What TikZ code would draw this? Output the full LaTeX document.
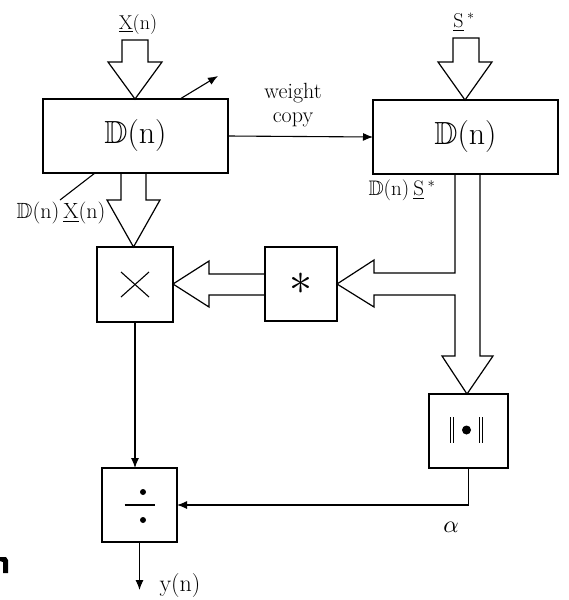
\documentclass[tikz,border=0pt]{standalone}
\usepackage{amssymb}
\DeclareFontFamily{U}{msb}{}
\DeclareFontShape{U}{msb}{m}{n}{<-> msbm10}{}
\DeclareFontShape{OML}{cmm}{m}{it}{<-> cmmi10}{}
\DeclareFontShape{OMS}{cmsy}{m}{n}{<-> cmsy10}{}
\usepackage{fontspec}
\usetikzlibrary{arrows.meta}
\newcommand{\spaced}{\addfontfeature{LetterSpace=6}}
\begin{document}
\begin{tikzpicture}[x=1pt,y=-1pt,line width=1.1pt,
  blk/.style={draw,inner sep=0pt,outer sep=0pt},
  big/.style={font=\fontsize{32}{34}\selectfont\spaced},
  lbl/.style={font=\fontsize{20}{22}\selectfont\spaced,inner sep=0pt},
  fat/.style={line width=1.2pt,line join=miter},
  thin/.style={line width=1.1pt,-{Latex[length=10pt,width=8pt]}}]
\useasboundingbox (0,0) rectangle (568,600);
% boxes
\node[blk,big,minimum width=185pt,minimum height=74pt] (DL) at (135.5,136) {$\mathbb{D}$(n)};
\node[blk,big,minimum width=185pt,minimum height=74pt] (DR) at (465.5,137) {$\mathbb{D}$(n)};
\node[blk,minimum width=76pt,minimum height=75pt] (mul) at (135,284.5) {};
\node[blk,minimum width=72pt,minimum height=74pt,font=\fontsize{46}{46}\selectfont] (conj) at (301,284) {$\ast$};
\node[blk,minimum width=79pt,minimum height=74pt] (norm) at (468.5,431) {};
\node[blk,minimum width=75pt,minimum height=74pt] (div) at (139.5,505) {};
% symbols inside boxes
\draw ([shift={(-14,-12.5)}]mul.center) -- ([shift={(14,12.5)}]mul.center);
\draw ([shift={(-14,12.5)}]mul.center) -- ([shift={(14,-12.5)}]mul.center);
\draw ([shift={(-15,0)}]div.center) -- ([shift={(15,0)}]div.center);
\fill ([shift={(3.5,-13)}]div.center) circle (3pt);
\fill ([shift={(3.5,15)}]div.center) circle (3pt);
\begin{scope}[line width=0.9pt]
\draw ([shift={(-18,-14)}]norm.center) -- ([shift={(-18,12)}]norm.center);
\draw ([shift={(-15,-14)}]norm.center) -- ([shift={(-15,12)}]norm.center);
\draw ([shift={(11,-14)}]norm.center) -- ([shift={(11,12)}]norm.center);
\draw ([shift={(14,-14)}]norm.center) -- ([shift={(14,12)}]norm.center);
\end{scope}
\fill ([shift={(-2,-1)}]norm.center) circle (4.5pt);
% fat arrows
\draw[fat] (122,40) -- (148,40) -- (148,62) -- (162,62) -- (135,99) -- (108,62) -- (122,62) -- cycle;
\draw[fat] (121,173) -- (121,200) -- (107,200) -- (133.5,247) -- (160,200) -- (146,200) -- (146,173);
\draw[fat] (453,38) -- (479,38) -- (479,62) -- (492,62) -- (465,100) -- (438,62) -- (453,62) -- cycle;
\draw[fat] (455,174) -- (455,273) -- (374,273) -- (374,260) -- (337,284) -- (374,307) -- (374,295)
  -- (455,295) -- (455,356) -- (442,356) -- (467,394) -- (493,356) -- (480,356) -- (480,174);
\draw[fat] (265,274) -- (209,274) -- (209,261) -- (173,284) -- (209,307) -- (209,295) -- (265,295);
% thin connectors
\draw[thin] (DL.east) -- (DR.west);
\draw[thin] (mul.south) -- (mul.south |- div.north);
\draw[thin] (norm.south) |- (div.east);
\coordinate (yout) at (139.5,590);
\draw[thin] (div.south) -- (yout);
\coordinate (pa) at (180,99);
\coordinate (pb) at (218,76);
\draw[thin] (pa) -- (pb);
\coordinate (pc) at (95,173);
\coordinate (pd) at (60,200);
\draw (pc) -- (pd);
% labels
\node[lbl,anchor=base] (lx) at (138,29) {\underline{X}(n)};
\node[lbl,anchor=base] (ls) at (464,27) {\underline{S}\,$^{*}$};
\node[lbl,anchor=base,font=\fontsize{22}{22}\selectfont\spaced] (ldx) at (61,218) {$\mathbb{D}$(n)\hspace{4pt}\underline{X}(n)};
\node[lbl,anchor=base,font=\fontsize{21}{22}\selectfont\spaced] (lds) at (402,195) {$\mathbb{D}$(n)\hspace{4pt}\underline{S}\,$^{*}$};
\node[inner sep=0pt,align=center,anchor=south,font=\fontsize{22}{24}\selectfont\spaced] (lw) at (293,128) {weight\\copy};
\node[lbl,anchor=base,font=\fontsize{24}{24}\selectfont\addfontfeature{LetterSpace=10}] (ly) at (180,591) {y(n)};
\node[lbl,anchor=base,font=\fontsize{24}{24}\selectfont] (la) at (451,532) {$\alpha$};
% scan artefact at the left edge
\fill (0,557) -- (6,557) -- (8,560) -- (8,573) -- (3,573) -- (3,562) -- (0,561) -- cycle;
\end{tikzpicture}
\end{document}
